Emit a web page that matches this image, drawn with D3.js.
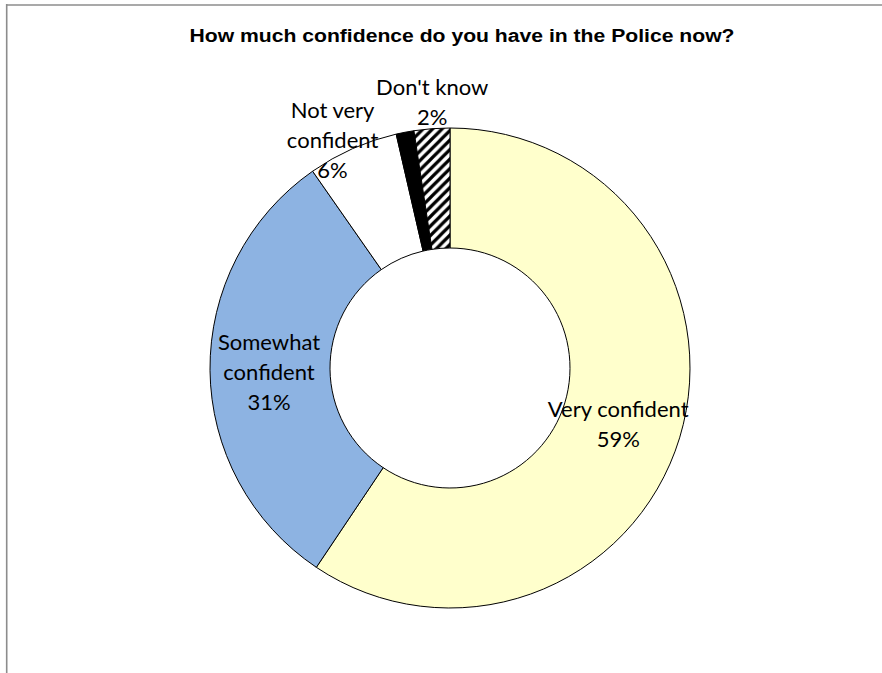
<!DOCTYPE html>
<html>
<head>
<meta charset="utf-8">
<script src="https://cdn.jsdelivr.net/npm/d3@7"></script>
<style>
  html, body { margin: 0; padding: 0; background: #fff; }
  svg { display: block; }
</style>
</head>
<body>
<svg id="chart" width="882" height="673"></svg>
<script>
// ---- data ----
const categories = ["Very confident", "Somewhat confident", "Not very confident", "No answer", "Don't know"];
const values = [59.4, 30.9, 6.1, 1.2, 2.4];
const labelLines = [["Very confident"], ["Somewhat", "confident"], ["Not very", "confident"], [], ["Don't know"]];
const pctLabels = ["59%", "31%", "6%", "", "2%"];
const title = "How much confidence do you have in the Police now?";

// ---- layout / style ----
const W = 882, H = 673;
const cx = 450, cy = 368, outerR = 240, innerR = 120;
const fills = ["#FFFFCC", "#8DB3E2", "#FFFFFF", "#000000", "url(#hatch)"];
// label anchor offsets relative to arc centroid (layout only)
const labelOffset = [
  {r: 180, dx: -4, dy: 5},
  {r: 180, dx: -1, dy: 3},
  {r: 250, dx: -16, dy: 1},
  null,
  {r: 250, dx: 1, dy: -16}
];
const lineH = 30;

const svg = d3.select("#chart");

const P = 9.5;
const defs = svg.append("defs");
const pat = defs.append("pattern")
  .attr("id", "hatch").attr("patternUnits", "userSpaceOnUse")
  .attr("width", P).attr("height", P);
pat.append("rect").attr("width", P).attr("height", P).attr("fill", "#fff");
pat.append("path")
  .attr("d", `M-2,2 L2,-2 M0,${P} L${P},0 M${P - 2},${P + 2} L${P + 2},${P - 2}`)
  .attr("stroke", "#000").attr("stroke-width", 3.2);

// frame
svg.append("line").attr("x1", 6).attr("x2", W).attr("y1", 5).attr("y2", 5)
  .attr("stroke", "#8c8c8c").attr("stroke-width", 1.6);
svg.append("line").attr("x1", 6.7).attr("x2", 6.7).attr("y1", 4).attr("y2", H)
  .attr("stroke", "#8c8c8c").attr("stroke-width", 1.6);

// title
svg.append("text")
  .attr("x", 462).attr("y", 42)
  .attr("text-anchor", "middle")
  .attr("font-family", "'Liberation Sans', Arial, sans-serif")
  .attr("font-weight", "bold")
  .attr("font-size", 18)
  .attr("textLength", 545)
  .attr("lengthAdjust", "spacingAndGlyphs")
  .attr("fill", "#000")
  .text(title);

const pie = d3.pie().sort(null).value(d => d);
const arcs = pie(values);
const arc = d3.arc().innerRadius(innerR).outerRadius(outerR);

const g = svg.append("g").attr("transform", `translate(${cx},${cy})`);
g.selectAll("path.slice")
  .data(arcs)
  .join("path")
  .attr("class", "slice")
  .attr("d", arc)
  .attr("fill", (d, i) => fills[i])
  .attr("stroke", "#000")
  .attr("stroke-width", 1)
  .attr("stroke-linejoin", "round");

// labels
arcs.forEach((d, i) => {
  const off = labelOffset[i];
  if (!off) return;
  const la = d3.arc().innerRadius(off.r).outerRadius(off.r);
  const [x, y] = la.centroid(d);
  const lines = labelLines[i].concat([pctLabels[i]]);
  const n = lines.length;
  const t = g.append("text")
    .attr("text-anchor", "middle")
    .attr("font-family", "Lato, 'Open Sans', sans-serif")
    .attr("font-size", 22)
    .attr("fill", "#000");
  lines.forEach((s, k) => {
    t.append("tspan")
      .attr("x", x + off.dx)
      .attr("y", y + off.dy + (k - (n - 1) / 2) * lineH + 7)
      .text(s);
  });
});
</script>
</body>
</html>
